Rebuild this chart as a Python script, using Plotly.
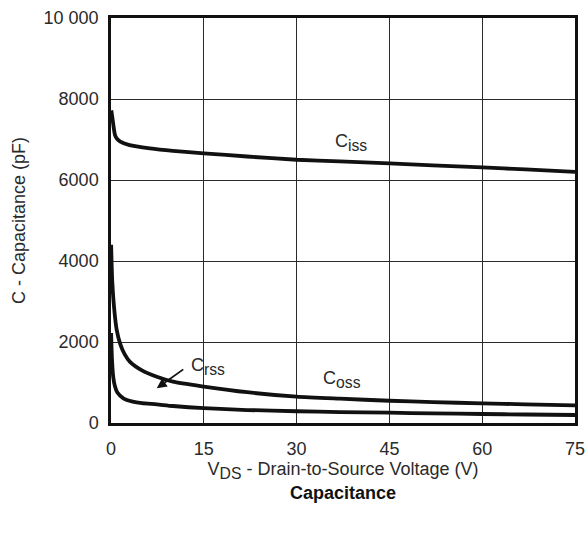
import plotly.graph_objects as go

# Capacitance vs drain-to-source voltage
vds_iss = [0.05, 0.3, 0.65, 1.0, 1.5, 3.0, 6.3, 10, 15, 22, 30, 37, 45, 52, 60, 67, 75]
ciss = [7720, 7450, 7110, 7010, 6950, 6860, 6780, 6720, 6660, 6580, 6500, 6460, 6410, 6360, 6310, 6260, 6200]

vds_oss = [0.02, 0.2, 0.5, 0.92, 1.5, 2.2, 3.07, 5.0, 7.4, 10, 15, 22, 30, 37, 45, 52, 60, 67, 75]
coss = [4400, 3500, 2850, 2300, 1950, 1700, 1510, 1300, 1140, 1020, 900, 760, 650, 600, 550, 515, 485, 460, 437]

vds_rss = [0.02, 0.15, 0.35, 0.65, 1.0, 2.0, 3.5, 5.0, 7.4, 10, 15, 22, 30, 37, 45, 52, 60, 67, 75]
crss = [2220, 1600, 1150, 900, 760, 610, 530, 490, 460, 420, 365, 320, 290, 270, 254, 237, 222, 210, 198]

x_ticks = [0, 15, 30, 45, 60, 75]
y_ticks = [0, 2000, 4000, 6000, 8000, 10000]
y_tick_text = ["0", "2000", "4000", "6000", "8000", "10 000"]

FONT = "Liberation Sans, Arial, sans-serif"
TXT = "#2a2a2a"
FS = 18
line_style = dict(color="#111111", width=3.8, shape="spline", smoothing=0.6)


def sub(main, low):
    # subscript drawn a little larger than the default 70 %
    return f'{main}<sub><span style="font-size:125%">{low}</span></sub>'


fig = go.Figure()
fig.add_trace(go.Scatter(x=vds_iss, y=ciss, mode="lines", line=line_style, name="Ciss"))
fig.add_trace(go.Scatter(x=vds_oss, y=coss, mode="lines", line=line_style, name="Coss"))
fig.add_trace(go.Scatter(x=vds_rss, y=crss, mode="lines", line=line_style, name="Crss"))

axis_common = dict(
    showgrid=True, gridcolor="#2a2a2a", gridwidth=1,
    showline=True, linecolor="#111111", linewidth=2.5, mirror=True,
    zeroline=False, ticks="", automargin=False,
    tickfont=dict(family=FONT, size=FS, color=TXT),
)

fig.update_xaxes(range=[0, 75], tickvals=x_ticks, ticklabelstandoff=8,
                 title=dict(text=sub("V", "DS") + " - Drain-to-Source Voltage (V)",
                            font=dict(family=FONT, size=FS, color=TXT), standoff=4),
                 **axis_common)
fig.update_yaxes(range=[0, 10000], tickvals=y_ticks, ticktext=y_tick_text, ticklabelstandoff=6,
                 title=dict(text="C - Capacitance (pF)",
                            font=dict(family=FONT, size=FS, color=TXT), standoff=14),
                 **axis_common)

curve_labels = [
    (38.8, 6914, sub("C", "iss")),
    (37.3, 1062, sub("C", "oss")),
    (15.7, 1407, sub("C", "rss")),
]
for x, y, t in curve_labels:
    fig.add_annotation(x=x, y=y, text=t, showarrow=False,
                       font=dict(family=FONT, size=FS, color=TXT))

# pointer to the Crss curve
fig.add_annotation(x=7.4, y=857, text="", showarrow=True, arrowhead=2, arrowsize=1.1,
                   arrowwidth=1.8, arrowcolor="#111111", ax=28, ay=-20)

fig.add_annotation(x=0.5, y=-0.174, xref="paper", yref="paper", text="<b>Capacitance</b>",
                   showarrow=False, xanchor="center", yanchor="middle",
                   font=dict(family=FONT, size=FS, color="#111111"))

fig.update_layout(
    width=586, height=534,
    margin=dict(l=111, r=11, t=18, b=111, autoexpand=False),
    paper_bgcolor="white", plot_bgcolor="white",
    showlegend=False,
)

fig.write_html("out.html")
